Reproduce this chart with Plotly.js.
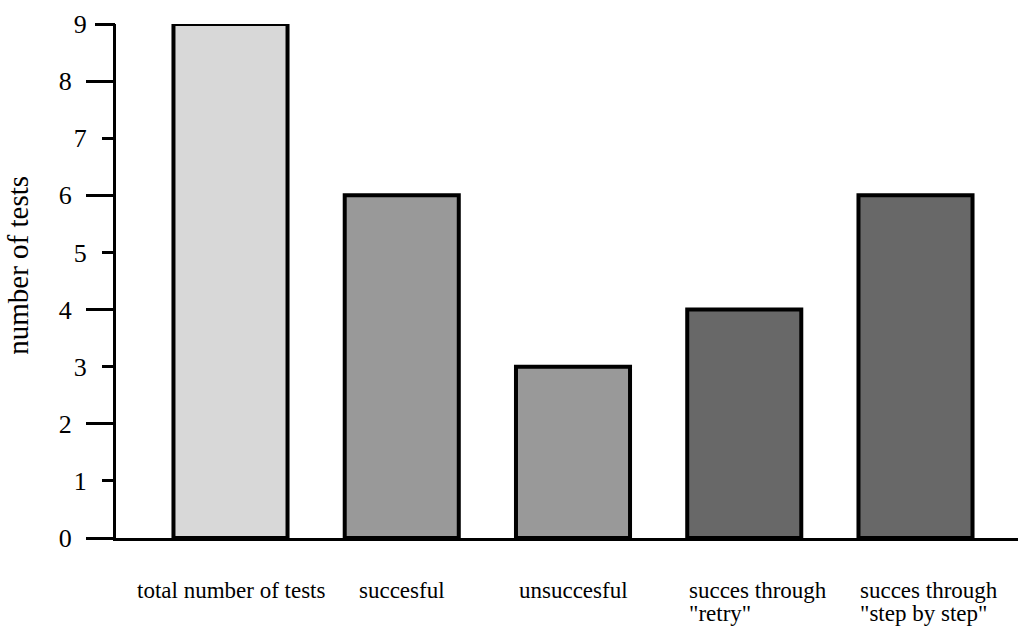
<!DOCTYPE html>
<html>
<head>
<meta charset="utf-8">
<script src="https://cdn.plot.ly/plotly-3.0.1.min.js"></script>
<style>
  html, body { margin: 0; padding: 0; background: #ffffff; }
  #chart { width: 1018px; height: 626px; }
</style>
</head>
<body>
<div id="chart"></div>
<script>
// ---- data ----
const categories = [
  "total number of tests",
  "succesful",
  "unsuccesful",
  "succes through\n\"retry\"",
  "succes through\n\"step by step\""
];
const values = [9, 6, 3, 4, 6];
const yTicksMajor = [0, 2, 4, 6, 8];
const yTicksMinor = [1, 3, 5, 7];
const yTicksTop = [9];
const yTitle = "number of tests";

// ---- style ----
const barColors = ["#d8d8d8", "#999999", "#999999", "#686868", "#686868"];
const FONT = "'Liberation Serif', 'Times New Roman', Times, serif";
const BARGAP = 0.334;
const LABEL_SIZE = 23;
const LINE_STEP = 23;

const catKeys = categories.map(c => c.replace(/\n/g, " "));

const traces = [
  {
    type: "bar",
    x: catKeys,
    y: values,
    marker: { color: barColors, line: { color: "#000000", width: 4 } },
    hoverinfo: "x+y",
    showlegend: false
  },
  // empty companion traces so the secondary tick axes are drawn
  { type: "scatter", x: [], y: [], yaxis: "y2", hoverinfo: "skip", showlegend: false },
  { type: "scatter", x: [], y: [], yaxis: "y3", hoverinfo: "skip", showlegend: false }
];

const annotations = [];
categories.forEach((c, i) => {
  const lines = c.split("\n");
  lines.forEach((ln, k) => {
    const multi = lines.length > 1;
    annotations.push({
      x: multi ? i - (1 - BARGAP) / 2 : i,
      xref: "x",
      y: 0, yref: "y",
      yanchor: "top",
      xanchor: multi ? "left" : "center",
      yshift: -38 - k * LINE_STEP,
      showarrow: false,
      text: ln,
      font: { family: FONT, size: LABEL_SIZE, color: "#000000" }
    });
  });
});
annotations.push({
  xref: "paper", yref: "paper",
  x: -0.109, y: 0.531,
  xanchor: "center", yanchor: "middle",
  textangle: -90,
  showarrow: false,
  text: yTitle,
  font: { family: FONT, size: 29, color: "#000000" }
});

const yCommon = {
  range: [0, 9],
  tickmode: "array",
  ticks: "outside", tickwidth: 3, tickcolor: "#000000",
  tickfont: { family: FONT, size: 26, color: "#000000" },
  showgrid: false, zeroline: false,
  fixedrange: true
};

const layout = {
  width: 1018, height: 626,
  margin: { l: 116, r: 0, t: 24, b: 88, pad: 0 },
  paper_bgcolor: "#ffffff",
  plot_bgcolor: "#ffffff",
  bargap: BARGAP,
  font: { family: FONT, color: "#000000" },
  xaxis: {
    type: "category",
    range: [-0.6686, 4.5985],
    showticklabels: false,
    ticks: "",
    showgrid: false,
    zeroline: false,
    showline: true, linecolor: "#000000", linewidth: 3,
    fixedrange: true
  },
  yaxis: Object.assign({}, yCommon, {
    tickvals: yTicksMajor,
    ticktext: yTicksMajor.map(String),
    ticklen: 27,
    ticklabelstandoff: 9,
    showline: true, linecolor: "#000000", linewidth: 3
  }),
  yaxis2: Object.assign({}, yCommon, {
    overlaying: "y", anchor: "x", side: "left",
    tickvals: yTicksMinor,
    ticktext: yTicksMinor.map(String),
    ticklen: 13,
    ticklabelstandoff: 10,
    showline: false
  }),
  yaxis3: Object.assign({}, yCommon, {
    overlaying: "y", anchor: "x", side: "left",
    tickvals: yTicksTop,
    ticktext: yTicksTop.map(String),
    ticklen: 20,
    ticklabelstandoff: 3,
    showline: false
  }),
  annotations: annotations
};

Plotly.newPlot("chart", traces, layout, { displayModeBar: false, staticPlot: true });
</script>
</body>
</html>
